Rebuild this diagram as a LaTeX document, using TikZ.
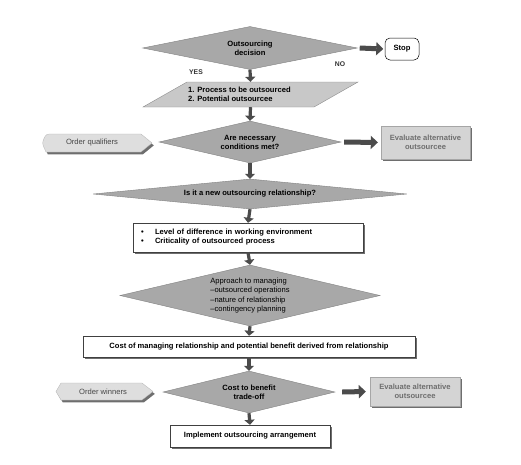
\documentclass[tikz,border=0pt]{standalone}
\usepackage{fontspec}
\setmainfont{Liberation Sans}
\usetikzlibrary{shapes.geometric,arrows.meta,shadows}
\definecolor{diafill}{RGB}{168,168,168}
\definecolor{diaedge}{RGB}{130,130,130}
\definecolor{parfill}{RGB}{200,200,200}
\definecolor{evfill}{RGB}{212,212,212}
\definecolor{evtext}{RGB}{110,110,110}
\definecolor{ordfill}{RGB}{222,222,222}
\definecolor{ordtext}{RGB}{70,70,70}
\definecolor{arrcol}{RGB}{75,75,75}
\definecolor{shadowcol}{RGB}{110,110,110}
\begin{document}
\begin{tikzpicture}[x=1pt,y=-1pt,
  every node/.style={font=\fontsize{7.6}{9}\selectfont\bfseries, inner sep=0pt},
  dia/.style={diamond, fill=diafill, draw=diaedge, line width=0.4pt, align=center},
  sh/.style={drop shadow={shadow xshift=2.2pt, shadow yshift=-2.2pt, fill=shadowcol, opacity=1}},
  wbox/.style={rectangle, draw=black!75, line width=0.4pt, fill=white, sh},
  evbox/.style={rectangle, draw=black!35, line width=0.4pt, fill=evfill, sh, text=evtext, align=center},
  ordsh/.style={fill=ordfill, draw=black!30, line width=0.3pt, drop shadow={shadow xshift=1.8pt, shadow yshift=-2.4pt, fill=shadowcol, opacity=1}},
  varr/.style={draw=arrcol, line width=3.2pt, -{Triangle[length=5pt,width=10pt]}},
  harr/.style={draw=arrcol, line width=5pt, -{Triangle[length=7pt,width=13pt]}},
  lbl/.style={font=\fontsize{6.8}{8}\selectfont\bfseries, text=black!80}
]
\useasboundingbox (0,0) rectangle (521,464);

% Outsourcing decision
\node[dia, minimum width=215pt, minimum height=43pt, shape aspect=5] (d1) at (250,48) {Outsourcing\\decision};
\node[rectangle, draw=black, line width=0.5pt, rounded corners=5pt, fill=white, minimum width=34pt, minimum height=22pt] (stop) at (402,49) {Stop};
\draw[harr] ([xshift=2pt]d1.east) -- ([xshift=-1.5pt]stop.west);
\node[lbl] (yes) at (196,72) {YES};
\node[lbl] (no) at (340,64) {NO};

% Parallelogram
\draw[fill=parfill, draw=black!45, line width=0.4pt] (187,82) -- (358,82) -- (314,107) -- (143,107) -- cycle;
\node[rectangle, minimum width=171pt, minimum height=25pt] (proc) at (250.5,94.5) {};
\node[anchor=west, align=left] (proctxt) at (188,94) {1. Process to be outsourced\\2. Potential outsourcee};
\draw[varr] (d1.south) -- (proc.north);

% Are necessary conditions met?
\node[dia, minimum width=182pt, minimum height=42pt, shape aspect=4.33] (d2) at (250,142) {Are necessary\\conditions met?};
\draw[varr] (proc.south) -- (d2.north);
\draw[ordsh] (46,134) -- (141,134) -- (152,143) -- (141,152) -- (46,152) [rounded corners=3pt] -- (42,143) -- cycle;
\node[text=ordtext, font=\fontsize{7.6}{9}\selectfont] (oq) at (92,143) {Order qualifiers};
\node[evbox, minimum width=89pt, minimum height=33pt] (ev1) at (425.5,142.5) {Evaluate alternative\\outsourcee};
\draw[harr] ([xshift=3pt]d2.east) -- ([xshift=-3pt]ev1.west);

% Is it a new outsourcing relationship?
\node[dia, minimum width=314pt, minimum height=30pt, shape aspect=10.5] (d3) at (250,194) {Is it a new outsourcing relationship?};
\draw[varr] (d2.south) -- (d3.north);

% Bullet box
\node[wbox, minimum width=230pt, minimum height=29pt, text width=214pt, align=left] (lvl) at (248,237.5)
  {\makebox[14pt][l]{•}Level of difference in working environment\\\makebox[14pt][l]{•}Criticality of outsourced process};
\draw[varr] (d3.south) -- (lvl.north);

% Approach to managing
\node[dia, minimum width=260pt, minimum height=61pt, shape aspect=4.26, align=left, font=\fontsize{7.6}{9.6}\selectfont] (d4) at (250,295.5)
  {Approach to managing\\–outsourced operations\\–nature of relationship\\–contingency planning};
\draw[varr] (lvl.south) -- (d4.north);

% Cost box
\node[wbox, minimum width=332pt, minimum height=21pt] (cost) at (249,346.5) {Cost of managing relationship and potential benefit derived from relationship};
\draw[varr] (d4.south) -- (cost.north);

% Cost to benefit trade-off
\node[dia, minimum width=172pt, minimum height=42pt, shape aspect=4.1] (d5) at (249,392) {Cost to benefit\\trade-off};
\draw[varr] (cost.south) -- (d5.north);
\draw[ordsh] (61,383) -- (142,383) -- (153,391.5) -- (142,400) -- (61,400) -- (56,391.5) -- cycle;
\node[text=ordtext, font=\fontsize{7.6}{9}\selectfont] (ow) at (103,391.5) {Order winners};
\node[evbox, minimum width=90pt, minimum height=29pt] (ev2) at (415,391.5) {Evaluate alternative\\outsourcee};
\draw[harr] ([xshift=7pt]d5.east) -- ([xshift=-4pt]ev2.west);

% Implement
\node[wbox, minimum width=160pt, minimum height=22pt] (impl) at (250,436) {Implement outsourcing arrangement};
\draw[varr] (d5.south) -- (impl.north);
\end{tikzpicture}
\end{document}
